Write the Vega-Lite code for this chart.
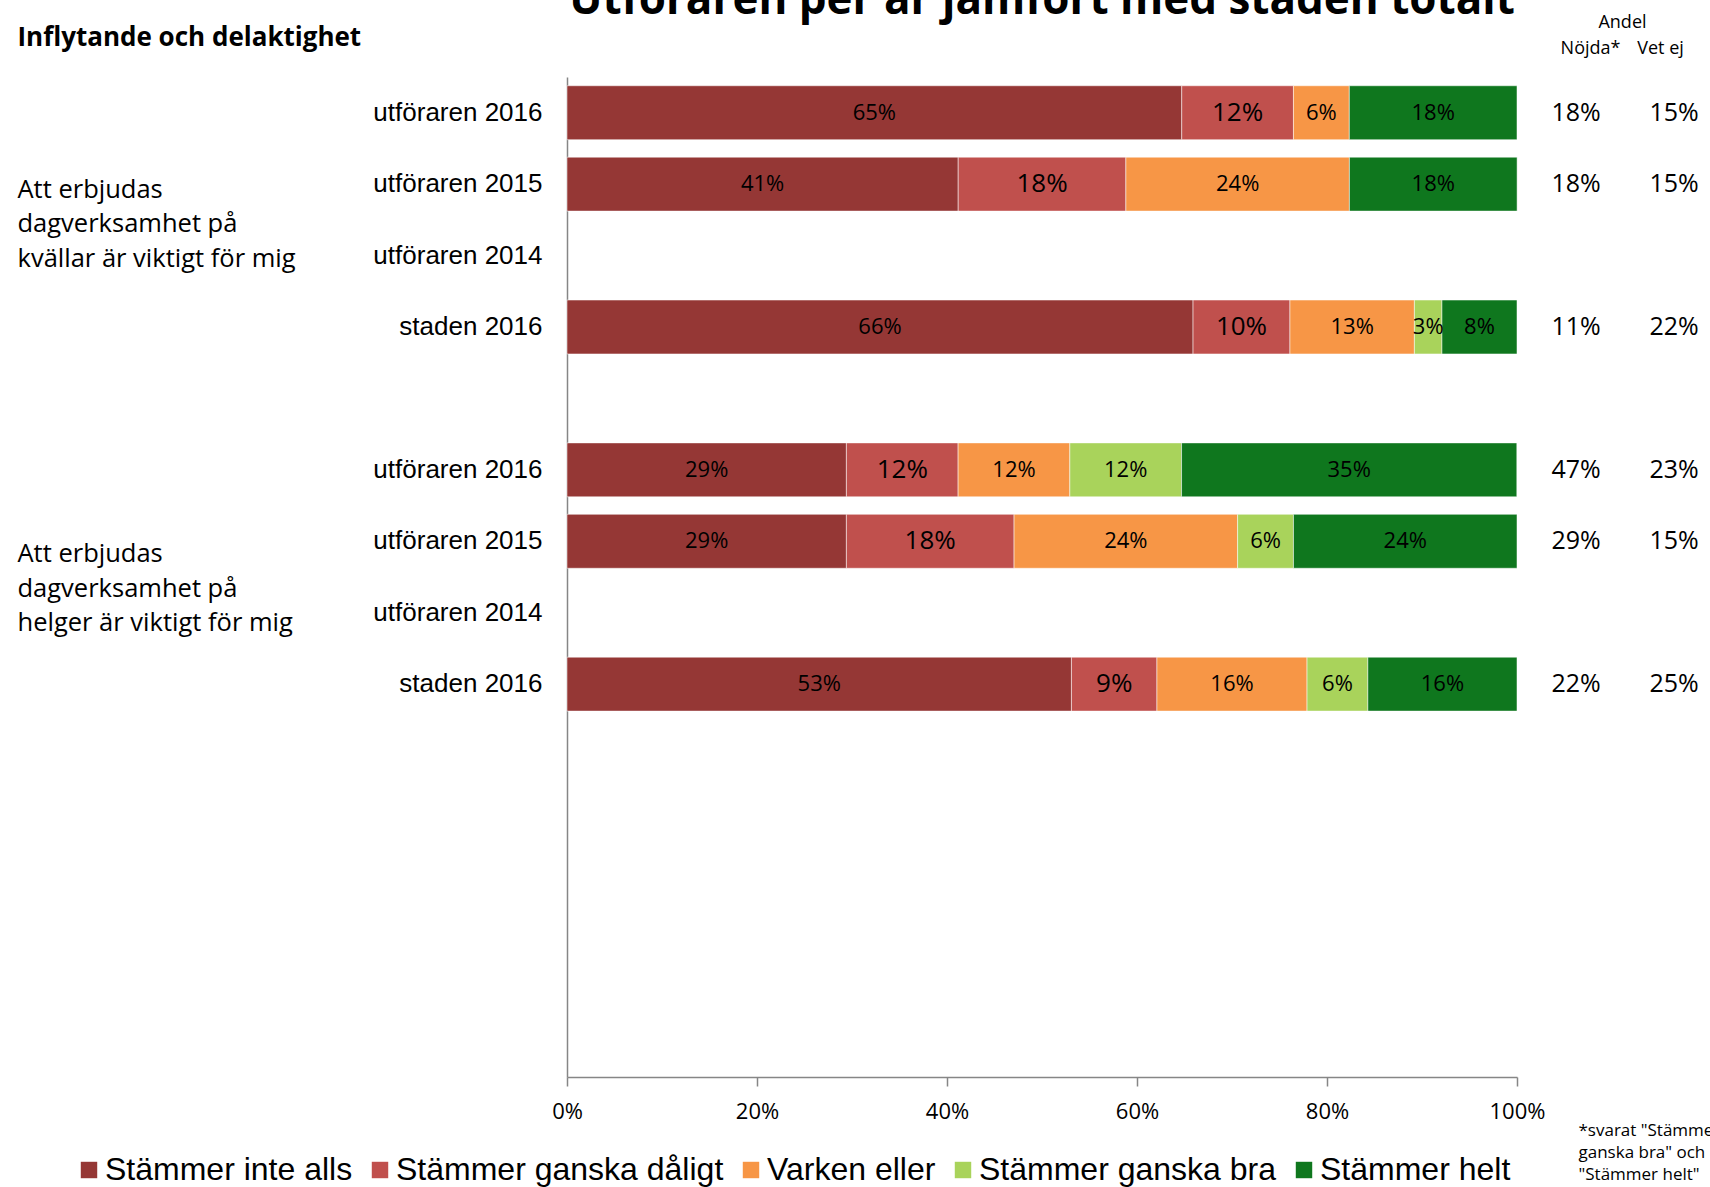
{
  "$schema": "https://vega.github.io/schema/vega-lite/v6.json",
  "width": 950,
  "height": 1000,
  "autosize": "none",
  "padding": {"left": 567, "top": 77, "right": 193, "bottom": 110},
  "background": "white",
  "config": {"view": {"stroke": null}, "font": "Open Sans"},
  "title": {"text": "Utföraren per år jämfört med staden totalt", "font": "Open Sans", "fontSize": 44, "fontWeight": "bold", "color": "black", "anchor": "middle", "offset": -10},
  "datasets": {
    "bars": [
      {"row": "k|utföraren 2016", "cat": "Stämmer inte alls", "k": 1, "v": 0.6471},
      {"row": "k|utföraren 2016", "cat": "Stämmer ganska dåligt", "k": 2, "v": 0.1176},
      {"row": "k|utföraren 2016", "cat": "Varken eller", "k": 3, "v": 0.0588},
      {"row": "k|utföraren 2016", "cat": "Stämmer helt", "k": 5, "v": 0.1765},
      {"row": "k|utföraren 2015", "cat": "Stämmer inte alls", "k": 1, "v": 0.4118},
      {"row": "k|utföraren 2015", "cat": "Stämmer ganska dåligt", "k": 2, "v": 0.1765},
      {"row": "k|utföraren 2015", "cat": "Varken eller", "k": 3, "v": 0.2353},
      {"row": "k|utföraren 2015", "cat": "Stämmer helt", "k": 5, "v": 0.1765},
      {"row": "k|staden 2016", "cat": "Stämmer inte alls", "k": 1, "v": 0.659},
      {"row": "k|staden 2016", "cat": "Stämmer ganska dåligt", "k": 2, "v": 0.102},
      {"row": "k|staden 2016", "cat": "Varken eller", "k": 3, "v": 0.131},
      {"row": "k|staden 2016", "cat": "Stämmer ganska bra", "k": 4, "v": 0.029},
      {"row": "k|staden 2016", "cat": "Stämmer helt", "k": 5, "v": 0.079},
      {"row": "h|utföraren 2016", "cat": "Stämmer inte alls", "k": 1, "v": 0.2941},
      {"row": "h|utföraren 2016", "cat": "Stämmer ganska dåligt", "k": 2, "v": 0.1176},
      {"row": "h|utföraren 2016", "cat": "Varken eller", "k": 3, "v": 0.1176},
      {"row": "h|utföraren 2016", "cat": "Stämmer ganska bra", "k": 4, "v": 0.1176},
      {"row": "h|utföraren 2016", "cat": "Stämmer helt", "k": 5, "v": 0.3529},
      {"row": "h|utföraren 2015", "cat": "Stämmer inte alls", "k": 1, "v": 0.2941},
      {"row": "h|utföraren 2015", "cat": "Stämmer ganska dåligt", "k": 2, "v": 0.1765},
      {"row": "h|utföraren 2015", "cat": "Varken eller", "k": 3, "v": 0.2353},
      {"row": "h|utföraren 2015", "cat": "Stämmer ganska bra", "k": 4, "v": 0.0588},
      {"row": "h|utföraren 2015", "cat": "Stämmer helt", "k": 5, "v": 0.2353},
      {"row": "h|staden 2016", "cat": "Stämmer inte alls", "k": 1, "v": 0.531},
      {"row": "h|staden 2016", "cat": "Stämmer ganska dåligt", "k": 2, "v": 0.09},
      {"row": "h|staden 2016", "cat": "Varken eller", "k": 3, "v": 0.158},
      {"row": "h|staden 2016", "cat": "Stämmer ganska bra", "k": 4, "v": 0.064},
      {"row": "h|staden 2016", "cat": "Stämmer helt", "k": 5, "v": 0.157}
    ],
    "side": [
      {"row": "k|utföraren 2016", "col": "Nöjda*", "v": 0.18},
      {"row": "k|utföraren 2016", "col": "Vet ej", "v": 0.15},
      {"row": "k|utföraren 2015", "col": "Nöjda*", "v": 0.18},
      {"row": "k|utföraren 2015", "col": "Vet ej", "v": 0.15},
      {"row": "k|staden 2016", "col": "Nöjda*", "v": 0.11},
      {"row": "k|staden 2016", "col": "Vet ej", "v": 0.22},
      {"row": "h|utföraren 2016", "col": "Nöjda*", "v": 0.47},
      {"row": "h|utföraren 2016", "col": "Vet ej", "v": 0.23},
      {"row": "h|utföraren 2015", "col": "Nöjda*", "v": 0.29},
      {"row": "h|utföraren 2015", "col": "Vet ej", "v": 0.15},
      {"row": "h|staden 2016", "col": "Nöjda*", "v": 0.22},
      {"row": "h|staden 2016", "col": "Vet ej", "v": 0.25}
    ]
  },
  "layer": [
    {
      "data": {"name": "bars"},
      "transform": [
        {"stack": "v", "groupby": ["row"], "sort": [{"field": "k", "order": "ascending"}], "as": ["x0", "x1"]}
      ],
      "mark": {"type": "bar", "stroke": "#ffffff", "strokeWidth": 1, "strokeOpacity": 0.5},
      "encoding": {
        "y": {
          "field": "row", "type": "nominal",
          "scale": {"domain": ["k|utföraren 2016", "k|utföraren 2015", "k|utföraren 2014", "k|staden 2016", "g|", "h|utföraren 2016", "h|utföraren 2015", "h|utföraren 2014", "h|staden 2016", "e1|", "e2|", "e3|", "e4|", "e5|"], "paddingInner": 0.245, "paddingOuter": 0.1225},
          "axis": {
            "title": "Inflytande och delaktighet", "titleAngle": 0, "titleX": -550, "titleY": -32, "titleAlign": "left", "titleBaseline": "alphabetic",
            "titleFont": "Open Sans", "titleFontSize": 26, "titleFontWeight": "bold", "titleColor": "black",
            "labelExpr": "split(datum.value, '|')[1]",
            "labelFont": "Liberation Sans", "labelFontSize": 26, "labelColor": "black", "labelPadding": 25, "labelLimit": 0, "labelBaseline": "middle",
            "ticks": false, "tickSize": 0, "domainColor": "#868686", "domainWidth": 1.5, "grid": false
          }
        },
        "x": {
          "field": "x0", "type": "quantitative",
          "scale": {"domain": [0, 1], "nice": false},
          "axis": {
            "values": [0, 0.2, 0.4, 0.6, 0.8, 1], "format": ".0%", "labelFlush": false,
            "labelFont": "Open Sans", "labelFontSize": 22, "labelColor": "black", "labelPadding": 15,
            "tickSize": 9, "tickColor": "#868686", "tickWidth": 1.5, "domainColor": "#868686", "domainWidth": 1.5, "grid": false,
            "title": ["*svarat \"Stämmer", "ganska bra\" och", "\"Stämmer helt\""],
            "titleX": 1011, "titleY": 53, "titleAlign": "left", "titleBaseline": "middle", "titleAngle": 0,
            "titleFont": "Open Sans", "titleFontSize": 17, "titleFontWeight": "normal", "titleColor": "black", "titleLineHeight": 22.4
          }
        },
        "x2": {"field": "x1"},
        "color": {
          "field": "cat", "type": "nominal",
          "scale": {"domain": ["Stämmer inte alls", "Stämmer ganska dåligt", "Varken eller", "Stämmer ganska bra", "Stämmer helt"], "range": ["#953735", "#C0504D", "#F79646", "#A9D35B", "#0F771E"]},
          "legend": {
            "orient": "none", "legendX": -494, "legendY": 1077, "direction": "horizontal", "title": null,
            "symbolType": "square", "symbolSize": 270, "symbolStrokeWidth": 0, "symbolOpacity": 1,
            "labelFont": "Liberation Sans", "labelFontSize": 32, "labelColor": "black", "labelLimit": 0,
            "columnPadding": 11, "labelOffset": 0, "padding": 0
          }
        }
      }
    },
    {
      "data": {"name": "bars"},
      "transform": [
        {"stack": "v", "groupby": ["row"], "sort": [{"field": "k", "order": "ascending"}], "as": ["x0", "x1"]},
        {"calculate": "(datum.x0 + datum.x1) / 2", "as": "xm"}
      ],
      "mark": {"type": "text", "font": "Open Sans", "color": "black", "baseline": "middle"},
      "encoding": {
        "y": {"field": "row", "type": "nominal", "axis": null},
        "x": {"field": "xm", "type": "quantitative", "scale": {"domain": [0, 1], "nice": false}, "axis": null},
        "text": {"field": "v", "type": "quantitative", "format": ".0%"},
        "size": {"condition": {"test": "datum.k === 2", "value": 26}, "value": 22}
      }
    },
    {
      "data": {"name": "side"},
      "mark": {"type": "text", "font": "Open Sans", "fontSize": 25, "color": "black", "baseline": "middle"},
      "encoding": {
        "y": {
          "field": "row", "type": "nominal",
          "axis": {
            "orient": "left", "title": null, "offset": 550, "domain": false, "ticks": false, "tickSize": 0, "grid": false,
            "labelPadding": 0, "labelAlign": "left", "labelBaseline": "middle", "labelFont": "Open Sans", "labelFontSize": 25.5,
            "labelColor": "black", "labelLineHeight": 34.5, "labelLimit": 0,
            "labelExpr": "datum.value === 'k|utföraren 2015' ? ['Att erbjudas', 'dagverksamhet på', 'kvällar är viktigt för mig'] : datum.value === 'h|utföraren 2015' ? ['Att erbjudas', 'dagverksamhet på', 'helger är viktigt för mig'] : ''",
            "labelOffset": {"condition": {"test": "datum.value === 'k|utföraren 2015'", "value": 5.5}, "value": 13}
          }
        },
        "x": {
          "field": "col", "type": "nominal",
          "scale": {"type": "point", "domain": ["Nöjda*", "Vet ej"], "range": [1009, 1107], "padding": 0},
          "axis": {
            "orient": "top", "title": "Andel", "titleFont": "Open Sans", "titleFontSize": 18, "titleFontWeight": "normal", "titleColor": "black",
            "titleX": 1055, "titleY": -50, "titleAlign": "center", "titleBaseline": "alphabetic",
            "labelFont": "Open Sans", "labelFontSize": 18, "labelColor": "black", "labelBaseline": "alphabetic", "labelPadding": 24, "labelAngle": 0,
            "ticks": false, "tickSize": 0, "domain": false, "grid": false,
            "labelOffset": {"condition": {"test": "datum.value === 'Nöjda*'", "value": 14}, "value": -14}
          }
        },
        "text": {"field": "v", "type": "quantitative", "format": ".0%"}
      }
    }
  ],
  "resolve": {"scale": {"x": "independent"}, "axis": {"x": "independent", "y": "independent"}}
}
